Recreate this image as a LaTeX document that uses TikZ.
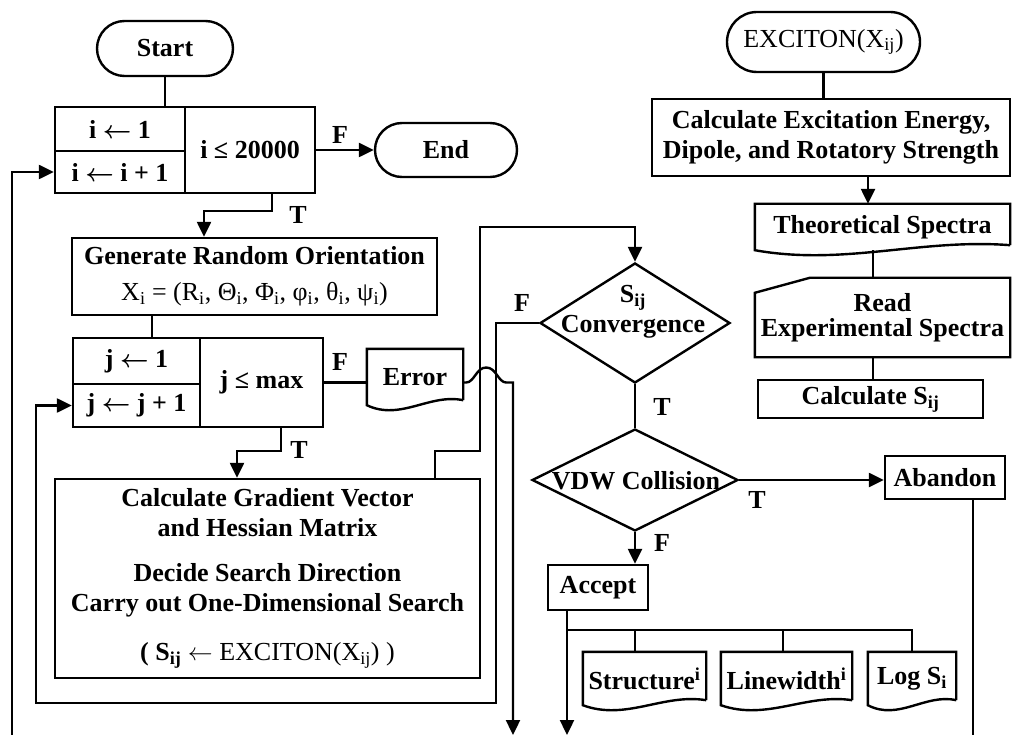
\documentclass[tikz,border=0pt]{standalone}
\usepackage{fontspec}
\setmainfont{Liberation Serif}
\usetikzlibrary{shapes.geometric,shapes.misc,arrows.meta,calc}

\newcommand{\la}{{\boldmath$\leftarrow$}}
\newcommand{\docoutline}[1]{%
  \draw[flowline] ([yshift=5pt]#1.south east) -- (#1.north east) -- (#1.north west) -- (#1.south west)
    .. controls ($(#1.south west)!0.35!(#1.south east)+(0,16)$) and ($(#1.south west)!0.65!(#1.south east)+(0,-12)$) .. ([yshift=5pt]#1.south east);}
\newcommand{\cardoutline}[1]{%
  \draw[flowline] (#1.south west) -- ([yshift=-15pt]#1.north west) -- ([xshift=55pt]#1.north west) -- (#1.north east) -- (#1.south east) -- cycle;}

\begin{document}
\begin{tikzpicture}[x=1pt, y=-1pt,
  font=\fontsize{26}{30}\selectfont\bfseries,
  flowline/.style={line width=2.4pt},
  arr/.style={flowline, -{Triangle[length=15pt,width=14pt]}},
  procbox/.style={draw, rectangle, line width=2.4pt, inner sep=0pt, align=center},
  termbox/.style={draw, rounded rectangle, line width=2.4pt, inner sep=0pt, align=center},
  decision/.style={draw, diamond, line width=2.4pt, inner sep=0pt},
  docbox/.style={rectangle, inner sep=0pt, align=center},
  tf/.style={inner sep=0pt},
]
\useasboundingbox (0,0) rectangle (1012,735);

% outer loop
\node[termbox, minimum width=136, minimum height=55] (start) at (165,48.5) {Start};
\node[procbox, minimum width=130, minimum height=44] (iinit) at (120,129) {i \la{} 1};
\node[procbox, minimum width=130, minimum height=42] (iinc) at (120,172) {i \la{} i + 1};
\node[procbox, minimum width=130, minimum height=86] (icond) at (250,150) {i ≤ 20000};
\node[termbox, minimum width=142, minimum height=54] (finish) at (446,150) {End};
\node[procbox, minimum width=365, minimum height=77] (gen) at (254.5,276.5)
  {Generate Random Orientation\\[6pt]\mdseries X\textsubscript{i} = (R\textsubscript{i}, Θ\textsubscript{i}, Φ\textsubscript{i}, φ\textsubscript{i}, θ\textsubscript{i}, ψ\textsubscript{i})};

% inner loop
\node[procbox, minimum width=127, minimum height=46] (jinit) at (136.5,361) {j \la{} 1};
\node[procbox, minimum width=127, minimum height=43] (jinc) at (136.5,405.5) {j \la{} j + 1};
\node[procbox, minimum width=123, minimum height=89] (jcond) at (261.5,382.5) {j ≤ max};
\node[docbox, minimum width=96, minimum height=56] (err) at (415,377) {Error};
\docoutline{err}
\node[procbox, minimum width=425, minimum height=199] (grad) at (267.5,578.5)
  {Calculate Gradient Vector\\and Hessian Matrix\\[15pt]Decide Search Direction\\Carry out One-Dimensional Search\\[19pt]( S\textsubscript{ij} \mdseries$\leftarrow$ EXCITON(X\textsubscript{ij}) )};

% exciton routine
\node[termbox, minimum width=193, minimum height=60] (excit) at (823.5,42) {\mdseries EXCITON(X\textsubscript{ij})};
\node[procbox, minimum width=358, minimum height=77] (calcexc) at (831,137.5) {Calculate Excitation Energy,\\Dipole, and Rotatory Strength};
\node[docbox, minimum width=255, minimum height=46] (theo) at (882.5,227) {Theoretical Spectra};
\docoutline{theo}
\node[docbox, minimum width=255, minimum height=79] (read) at (882.5,317.5) {Read\\[-5pt]Experimental Spectra};
\cardoutline{read}
\node[procbox, minimum width=225, minimum height=38] (calcs) at (870.5,399) {Calculate S\textsubscript{ij}};

% decisions
\node[decision, minimum width=190, minimum height=120] (conv) at (635,323) {};
\node[inner sep=0pt, align=center] (convtxt) at (633,312) {S\textsubscript{ij}\\Convergence};
\node[decision, minimum width=206, minimum height=102] (vdw) at (635,480) {};
\node[inner sep=0pt] (vdwtxt) at (636,481) {VDW Collision};
\node[procbox, minimum width=120, minimum height=43] (abandon) at (945,477.5) {Abandon};
\node[procbox, minimum width=100, minimum height=45] (accept) at (598,587.5) {Accept};
\node[docbox, minimum width=123, minimum height=53] (struct) at (644.5,678.5) {Structure\textsuperscript{i}};
\docoutline{struct}
\node[docbox, minimum width=131, minimum height=53] (linew) at (786.5,678.5) {Linewidth\textsuperscript{i}};
\docoutline{linew}
\node[docbox, minimum width=88, minimum height=53] (logs) at (912,678.5) {Log S\textsubscript{i}};
\docoutline{logs}

% branch labels
\node[tf] (fi) at (340,135) {F};
\node[tf] (ti) at (298,215) {T};
\node[tf] (fj) at (340,362) {F};
\node[tf] (tj) at (299,450) {T};
\node[tf] (fconv) at (522,303) {F};
\node[tf] (tconv) at (662,407) {T};
\node[tf] (tvdw) at (757,500) {T};
\node[tf] (fvdw) at (662,543) {F};

\coordinate (bota) at (12,735);
\coordinate (botb) at (513,735);
\coordinate (botc) at (567,735);
\coordinate (botd) at (973,735);

% connectors
\draw[flowline] (start.south) -- (start.south |- iinit.north);
\draw[arr] (icond.east) -- (finish.west);
\draw[arr] ([xshift=22pt]icond.south) -- ++(0,17) -| ([xshift=-50.5pt]gen.north);
\draw[arr] (bota) |- (iinc.west);
\draw[flowline] ([xshift=-102.5pt]gen.south) -- ([xshift=-102.5pt]gen.south |- jinit.north);
\draw[arr] ([xshift=19.5pt]jcond.south) -- ++(0,23) -| ([xshift=-30.5pt]grad.north);
\draw[flowline] (jcond.east) -- (jcond.east -| err.west);
\draw[arr] (err.east |- jcond.east) -- ++(3,0) .. controls +(8,0) and +(-10,0) .. ++(20,-15)
  .. controls +(10,0) and +(-8,0) .. ++(20,15) -- (botb |- jcond.east) -- (botb);
\draw[arr] ([xshift=167.5pt]grad.north) -- ++(0,-27) -| ++(45,-224) -| (conv.north);
\draw[arr] (conv.west) -- ++(-43,0) |- ++(-460,380) |- (jinc.west);
\draw[flowline] (conv.south) -- (vdw.north);
\draw[arr] (vdw.east) -- (vdw.east -| abandon.west);
\draw[flowline] ([xshift=28pt]abandon.south) -- (botd);
\draw[arr] (vdw.south) -- (vdw.south |- accept.north);
\draw[arr] ([xshift=-31pt]accept.south) -- (botc);
\coordinate (split) at ([xshift=-31pt,yshift=-19pt]accept.south);
\draw[flowline] (split) -| (logs.north);
\draw[flowline] ([xshift=-9.5pt]struct.north) |- (split);
\draw[flowline] ([xshift=-3.5pt]linew.north) |- (split);
\draw[flowline] (excit.south) -- (excit.south |- calcexc.north);
\draw[arr] ([xshift=37pt]calcexc.south) -- ([xshift=37pt]calcexc.south |- theo.north);
\draw[flowline] ([xshift=-9.5pt]theo.south) -- ([xshift=-9.5pt]read.north);
\draw[flowline] ([xshift=-9.5pt]read.south) -- ([xshift=-9.5pt]read.south |- calcs.north);
\end{tikzpicture}
\end{document}
